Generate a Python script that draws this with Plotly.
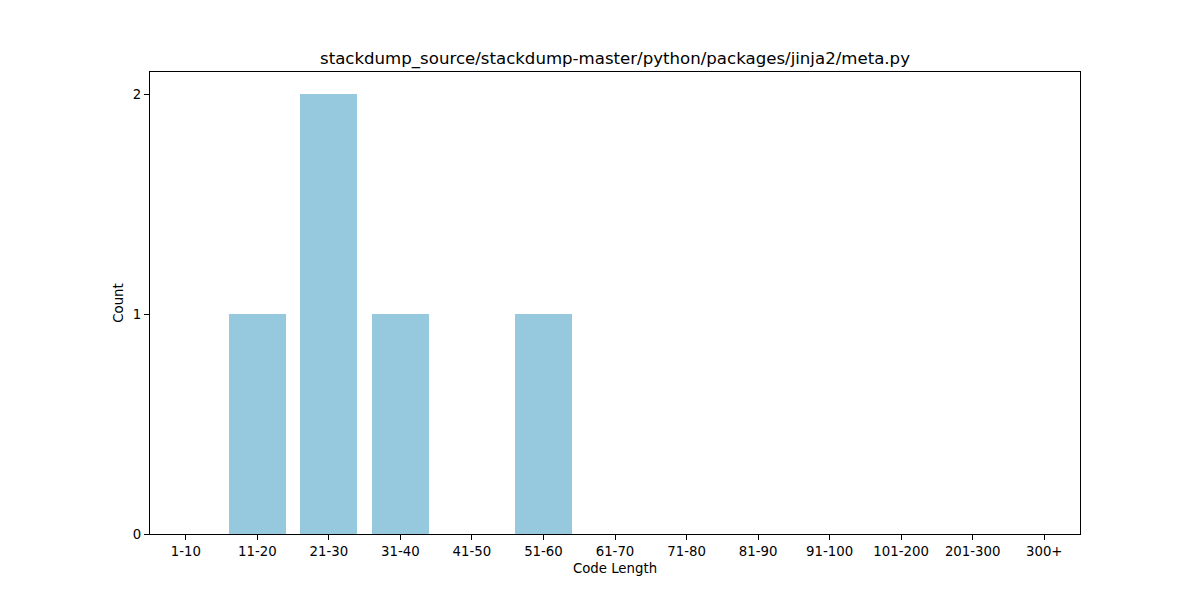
import plotly.graph_objects as go

categories = ["1-10", "11-20", "21-30", "31-40", "41-50", "51-60", "61-70",
              "71-80", "81-90", "91-100", "101-200", "201-300", "300+"]
counts = [0, 1, 2, 1, 0, 1, 0, 0, 0, 0, 0, 0, 0]
y_ticks = [0, 1, 2]

fig = go.Figure(go.Bar(
    x=list(range(len(categories))), y=counts, width=0.8,
    marker=dict(color="#96C9DD", line=dict(width=0)),
))

font = "DejaVu Sans, sans-serif"
fig.update_layout(
    width=1200, height=600,
    margin=dict(l=142, r=128, t=64, b=74),
    paper_bgcolor="white", plot_bgcolor="white",
    font=dict(family=font, size=13.3, color="black"),
    title=dict(text="stackdump_source/stackdump-master/python/packages/jinja2/meta.py",
               x=(142 + 1072) / 2 / 1200, xanchor="center", y=1 - 50 / 600, yanchor="middle",
               font=dict(size=16.6, family=font, color="black")),
    showlegend=False,
    bargap=0,
)
fig.update_xaxes(
    range=[-0.5, len(categories) - 0.5],
    tickmode="array", tickvals=list(range(len(categories))), ticktext=categories,
    ticks="outside", ticklen=5, tickwidth=1, tickcolor="black",
    showline=True, linecolor="black", linewidth=1, mirror=True,
    showgrid=False, zeroline=False,
    title=dict(text="Code Length", font=dict(size=13.3, family=font), standoff=5),
)
fig.update_yaxes(
    range=[0, 2.1],
    tickmode="array", tickvals=y_ticks, ticktext=[str(v) for v in y_ticks],
    ticks="outside", ticklen=5, tickwidth=1, tickcolor="black",
    showline=True, linecolor="black", linewidth=1, mirror=True,
    showgrid=False, zeroline=False,
    title=dict(text="Count", font=dict(size=13.3, family=font), standoff=6),
)
fig.write_html("out.html")
